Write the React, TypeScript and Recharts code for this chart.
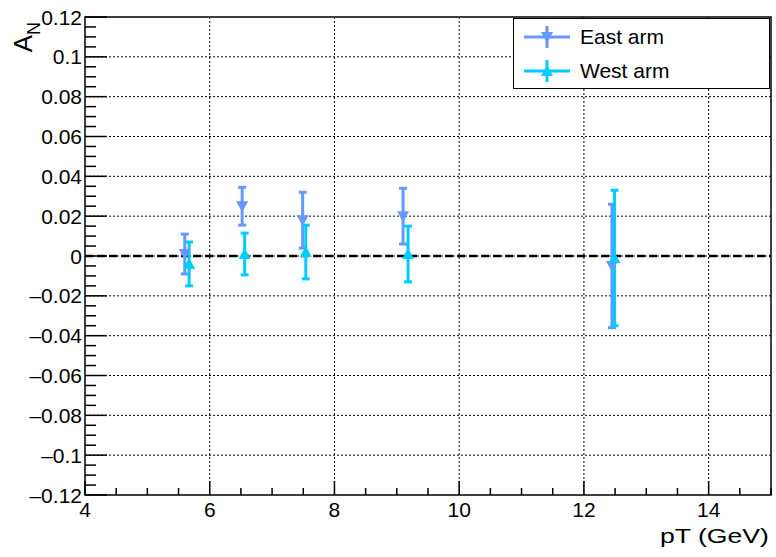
import React from 'react';
import {
  ScatterChart,
  Scatter,
  XAxis,
  YAxis,
  ErrorBar,
  ReferenceLine,
  ReferenceArea,
} from 'recharts';

// East arm points
const eastPt = [5.6, 6.52, 7.49, 9.1, 12.45];
const eastAN = [0.001, 0.025, 0.018, 0.02, -0.005];
const eastErr = [0.01, 0.0095, 0.014, 0.014, 0.031];

// West arm points
const westPt = [5.67, 6.56, 7.54, 9.18, 12.49];
const westAN = [-0.004, 0.001, 0.002, 0.001, -0.001];
const westErr = [0.011, 0.0105, 0.0135, 0.014, 0.034];

const xMajor = [4, 6, 8, 10, 12, 14];
const yMajor = [-0.12, -0.1, -0.08, -0.06, -0.04, -0.02, 0, 0.02, 0.04, 0.06, 0.08, 0.1, 0.12];
const yLabels = ['–0.12', '–0.1', '–0.08', '–0.06', '–0.04', '–0.02', '0', '0.02', '0.04', '0.06', '0.08', '0.1', '0.12'];

const EAST = '#6699ff';
const WEST = '#00ccff';
const FONT = '"Liberation Sans", Arial, sans-serif';

// minor ticks: 4 steps between majors on x (0.5), 4 on y (0.005)
const xTicks: number[] = [];
for (let i = 0; i <= 22; i++) xTicks.push(+(4 + i * 0.5).toFixed(2));
const yTicks: number[] = [];
for (let i = 0; i <= 48; i++) yTicks.push(+(-0.12 + i * 0.005).toFixed(3));

const east = eastPt.map((x, i) => ({ x, y: eastAN[i], err: eastErr[i] }));
const west = westPt.map((x, i) => ({ x, y: westAN[i], err: westErr[i] }));

const isMajor = (v: number, majors: number[]) => majors.some((m) => Math.abs(m - v) < 1e-6);

const XTick = (props: any) => {
  const { x, y, payload } = props;
  const major = isMajor(payload.value, xMajor);
  return (
    <g>
      <line x1={x} x2={x} y1={y} y2={y - (major ? 14 : 7)} stroke="#000" strokeWidth={1.5} />
      {major && (
        <text x={x} y={y + 22} textAnchor="middle" fontSize={21} fontFamily={FONT} fill="#000">
          {payload.value}
        </text>
      )}
    </g>
  );
};

const YTick = (props: any) => {
  const { x, y, payload } = props;
  const idx = yMajor.findIndex((m) => Math.abs(m - payload.value) < 1e-6);
  const major = idx >= 0;
  return (
    <g>
      <line x1={x} x2={x + (major ? 22 : 11)} y1={y} y2={y} stroke="#000" strokeWidth={1.5} />
      {major && (
        <text x={x - 3} y={y} dy="0.36em" textAnchor="end" fontSize={21} fontFamily={FONT} fill="#000">
          {yLabels[idx]}
        </text>
      )}
    </g>
  );
};

const DownTriangle = (props: any) => {
  const { cx, cy } = props;
  return <polygon points={`${cx - 6},${cy - 5} ${cx + 6},${cy - 5} ${cx},${cy + 6}`} fill={EAST} />;
};

const UpTriangle = (props: any) => {
  const { cx, cy } = props;
  return <polygon points={`${cx - 6},${cy + 5} ${cx + 6},${cy + 5} ${cx},${cy - 6}`} fill={WEST} />;
};

const LegendBox = () => {
  const items = [
    { label: 'East arm', color: EAST },
    { label: 'West arm', color: WEST },
  ];
  return (
    <div
      style={{
        position: 'absolute',
        left: 513,
        top: 18,
        width: 257,
        height: 71,
        border: '1.5px solid #000',
        background: '#fff',
        boxSizing: 'border-box',
        fontFamily: FONT,
        fontSize: 21,
        paddingTop: 1,
      }}
    >
      {items.map((it, i) => (
        <div key={it.label} style={{ display: 'flex', alignItems: 'center', height: 34, paddingLeft: 8 }}>
          <svg width={50} height={24} style={{ marginRight: 8 }}>
            <line x1={2} x2={48} y1={12} y2={12} stroke={it.color} strokeWidth={3} />
            <line x1={25} x2={25} y1={1} y2={23} stroke={it.color} strokeWidth={3} />
            {i === 0 ? (
              <polygon points="19,7 31,7 25,18" fill={it.color} />
            ) : (
              <polygon points="19,17 31,17 25,6" fill={it.color} />
            )}
          </svg>
          <span style={{ color: '#000' }}>{it.label}</span>
        </div>
      ))}
    </div>
  );
};

export default function App() {
  return (
    <div style={{ position: 'absolute', left: 0, top: 0, width: 776, height: 557, background: '#fff' }}>
      <ScatterChart width={776} height={557} margin={{ top: 17, right: 5, left: 0, bottom: 0 }}>
        <XAxis
          type="number"
          dataKey="x"
          domain={[4, 15]}
          ticks={xTicks}
          interval={0}
          height={62}
          axisLine={false}
          tickLine={false}
          tickSize={0}
          tickMargin={0}
          tick={<XTick />}
          allowDataOverflow
        />
        <YAxis
          type="number"
          dataKey="y"
          domain={[-0.12, 0.12]}
          ticks={yTicks}
          interval={0}
          width={85}
          axisLine={false}
          tickLine={false}
          tickSize={0}
          tickMargin={0}
          tick={<YTick />}
          allowDataOverflow
        />
        {xMajor.slice(1).map((v) => (
          <ReferenceLine key={`gx${v}`} x={v} stroke="#000" strokeWidth={1} strokeDasharray="2 2" />
        ))}
        {yMajor.slice(1, -1).map((v) => (
          <ReferenceLine key={`gy${v}`} y={v} stroke="#000" strokeWidth={1} strokeDasharray="2 2" />
        ))}
        <ReferenceLine y={0} stroke="#000" strokeWidth={2.5} strokeDasharray="8 4" />
        <ReferenceArea x1={4} x2={15} y1={-0.12} y2={0.12} fill="none" stroke="#000" strokeWidth={1.5} />
        <Scatter name="East arm" data={east} shape={<DownTriangle />} isAnimationActive={false}>
          <ErrorBar dataKey="err" direction="y" stroke={EAST} strokeWidth={3} width={4} />
        </Scatter>
        <Scatter name="West arm" data={west} shape={<UpTriangle />} isAnimationActive={false}>
          <ErrorBar dataKey="err" direction="y" stroke={WEST} strokeWidth={3} width={4} />
        </Scatter>
      </ScatterChart>
      <LegendBox />
      <div
        style={{
          position: 'absolute',
          right: 7,
          top: 526,
          fontFamily: FONT,
          fontSize: 20,
          lineHeight: '20px',
          color: '#000',
          whiteSpace: 'nowrap',
          transform: 'scaleX(1.33)',
          transformOrigin: 'right center',
        }}
      >
        pT (GeV)
      </div>
      <div
        style={{
          position: 'absolute',
          left: 10,
          top: 14,
          height: 38,
          fontFamily: FONT,
          fontSize: 26,
          lineHeight: '26px',
          color: '#000',
          whiteSpace: 'nowrap',
          writingMode: 'sideways-lr' as any,
        }}
      >
        A<span style={{ fontSize: 18, position: 'relative', left: 8 }}>N</span>
      </div>
    </div>
  );
}
